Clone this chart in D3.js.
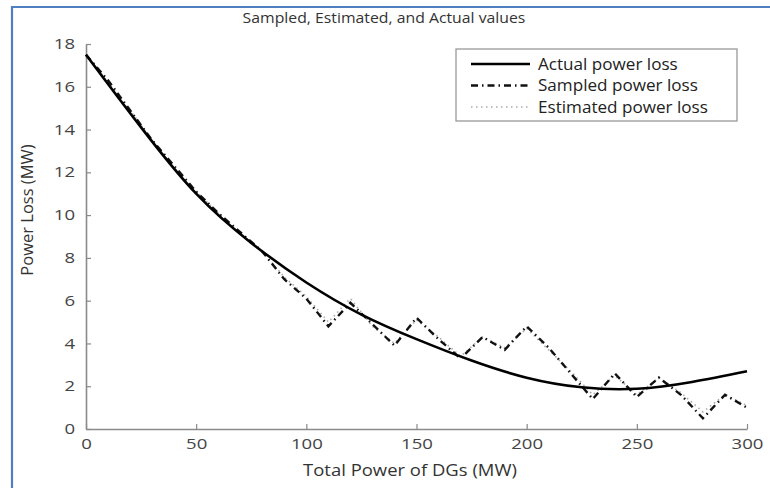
<!DOCTYPE html>
<html>
<head>
<meta charset="utf-8">
<script src="https://cdn.jsdelivr.net/npm/d3@7"></script>
<style>
  body { margin: 0; background: #fff; }
  svg { display: block; }
  text { font-family: "Open Sans", sans-serif; }
</style>
</head>
<body>
<svg id="chart" width="770" height="488"></svg>
<script>
// values
const actualX = [0, 25, 50, 75, 100, 125, 150, 175, 200, 225, 250, 275, 300];
const actualLoss = [17.5, 14.1, 11.0, 8.7, 6.85, 5.35, 4.2, 3.2, 2.4, 1.95, 1.88, 2.2, 2.7];

const sampleX = [0, 10, 20, 30, 40, 50, 60, 70, 80, 90, 100, 110, 120, 130, 140, 150,
                 160, 170, 180, 190, 200, 210, 220, 230, 240, 250, 260, 270, 280, 290, 300];
const sampledLoss = [17.5, 16.3, 14.9, 13.5, 12.3, 11.1, 10.1, 9.2, 8.3, 7.0, 6.1, 4.8, 5.9, 4.9, 3.9, 5.2,
                     4.2, 3.3, 4.3, 3.7, 4.8, 3.8, 2.6, 1.4, 2.6, 1.5, 2.4, 1.6, 0.5, 1.6, 1.0];
const estimatedLoss = [17.5, 16.2, 14.9, 13.5, 12.2, 11.1, 10.1, 9.1, 8.3, 7.1, 6.2, 5.0, 6.1, 4.8, 4.0, 5.1,
                       4.3, 3.4, 4.3, 3.8, 4.7, 3.7, 2.7, 1.6, 2.5, 1.6, 2.4, 1.7, 0.8, 1.6, 1.1];

const xTicks = [0, 50, 100, 150, 200, 250, 300];
const yTicks = [0, 2, 4, 6, 8, 10, 12, 14, 16, 18];

const legendItems = [
    {name: "Actual power loss", dash: null, color: "#000", width: 2.6},
    {name: "Sampled power loss", dash: "7,4,1.5,4", color: "#111", width: 2.4},
    {name: "Estimated power loss", dash: "1.5,3.5", color: "#aaa", width: 1.6}
];

const svg = d3.select("#chart");
const plotLeft = 86, plotRight = 747, plotTop = 44, plotBottom = 429;

const x = d3.scaleLinear().domain([0, 300]).range([plotLeft, plotRight]);
const y = d3.scaleLinear().domain([0, 18]).range([plotBottom, plotTop]);

// the picture's lettering is a bit wide, so texts get stretched sideways
function addText(parent, tx, ty, sx, size, str){
    return parent.append("text")
        .attr("transform", "translate(" + tx + "," + ty + ") scale(" + sx + ",1)")
        .attr("font-size", size)
        .attr("fill", "#333")
        .text(str);
}

// blue frame at the top and left
svg.append("path")
    .attr("d", "M12,488 L12,7 L770,7")
    .attr("fill", "none")
    .attr("stroke", "#4f7fc0")
    .attr("stroke-width", 2.2);

// title
addText(svg, 384, 23, 1.09, 14.5, "Sampled, Estimated, and Actual values")
    .attr("text-anchor", "middle");

// axes
const xAxis = d3.axisBottom(x).tickValues(xTicks).tickSizeInner(-5).tickSizeOuter(0).tickPadding(10);
const yAxis = d3.axisLeft(y).tickValues(yTicks).tickSizeInner(-5).tickSizeOuter(0).tickPadding(11);

const gx = svg.append("g").attr("transform", "translate(0," + plotBottom + ")").call(xAxis);
const gy = svg.append("g").attr("transform", "translate(" + plotLeft + ",0)").call(yAxis);

const tickStretch = 1.28;
[gx, gy].forEach(function(g){
    g.select(".domain").attr("stroke", "#8a8a8a").attr("stroke-width", 1.6);
    g.selectAll(".tick line").attr("stroke", "#8a8a8a").attr("stroke-width", 1.2);
    g.selectAll(".tick text")
        .attr("font-family", "'Open Sans', sans-serif")
        .attr("font-size", 14.5)
        .attr("fill", "#444")
        .attr("transform", "scale(" + tickStretch + ",1)");
});
gy.selectAll(".tick text").attr("x", -11 / tickStretch);

// axis labels
addText(svg, 410, 476, 1.12, 16.5, "Total Power of DGs (MW)")
    .attr("text-anchor", "middle");

svg.append("text")
    .attr("transform", "translate(33,210) rotate(-90)")
    .attr("text-anchor", "middle")
    .attr("font-size", 16.5)
    .attr("fill", "#333")
    .text("Power Loss (MW)");

// lines
const actualLine = d3.line()
    .x(function(d, i){ return x(actualX[i]); })
    .y(function(d){ return y(d); })
    .curve(d3.curveNatural);

const sampleLine = d3.line()
    .x(function(d, i){ return x(sampleX[i]); })
    .y(function(d){ return y(d); });

svg.append("path")
    .attr("d", sampleLine(estimatedLoss))
    .attr("fill", "none")
    .attr("stroke", legendItems[2].color)
    .attr("stroke-width", legendItems[2].width)
    .attr("stroke-dasharray", legendItems[2].dash);

svg.append("path")
    .attr("d", sampleLine(sampledLoss))
    .attr("fill", "none")
    .attr("stroke", legendItems[1].color)
    .attr("stroke-width", legendItems[1].width)
    .attr("stroke-dasharray", legendItems[1].dash);

svg.append("path")
    .attr("d", actualLine(actualLoss))
    .attr("fill", "none")
    .attr("stroke", legendItems[0].color)
    .attr("stroke-width", legendItems[0].width);

// legend
const legend = svg.append("g").attr("transform", "translate(456,49)");
legend.append("rect")
    .attr("width", 281).attr("height", 72)
    .attr("fill", "#fff")
    .attr("stroke", "#999")
    .attr("stroke-width", 1.3);

legendItems.forEach(function(item, i){
    const ly = 15 + i * 21.5;
    legend.append("line")
        .attr("x1", 15).attr("x2", 74)
        .attr("y1", ly).attr("y2", ly)
        .attr("stroke", item.color)
        .attr("stroke-width", item.width)
        .attr("stroke-dasharray", item.dash);
    addText(legend, 82, ly + 5.5, 1.07, 16, item.name).attr("fill", "#222");
});
</script>
</body>
</html>
